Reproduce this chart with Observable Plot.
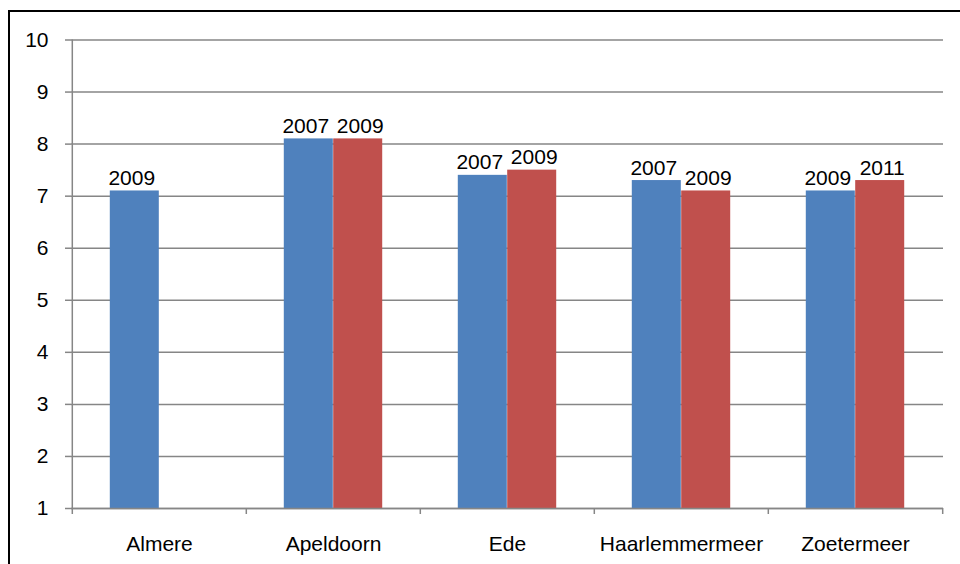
<!DOCTYPE html>
<html>
<head>
<meta charset="utf-8">
<script src="https://cdn.jsdelivr.net/npm/d3@7"></script>
<script src="https://cdn.jsdelivr.net/npm/@observablehq/plot@0.6"></script>
<style>
  html, body { margin: 0; padding: 0; background: #fff; }
  #wrap { position: relative; width: 960px; height: 564px; overflow: hidden; }
  #frame { position: absolute; left: 8px; top: 9.5px; width: 1000px; height: 1000px;
           border-left: 2.5px solid #000; border-top: 2.5px solid #000; box-sizing: border-box; }
  svg { position: absolute; left: 0; top: 0; }
</style>
</head>
<body>
<div id="wrap"><div id="frame"></div></div>
<script>
const cities = ["Almere", "Apeldoorn", "Ede", "Haarlemmermeer", "Zoetermeer"];
const blueValues = [7.1, 8.1, 7.4, 7.3, 7.1];
const redValues = [null, 8.1, 7.5, 7.1, 7.3];
const blueLabels = ["2009", "2007", "2007", "2007", "2009"];
const redLabels = [null, "2009", "2009", "2009", "2011"];
const yTicks = [1, 2, 3, 4, 5, 6, 7, 8, 9, 10];

const blue = cities.map((c, i) => ({city: c, value: blueValues[i], label: blueLabels[i]}));
const red = cities.map((c, i) => ({city: c, value: redValues[i], label: redLabels[i]})).filter(d => d.value != null);

const W = 960, H = 564, mL = 71, mR = 17, mT = 39.5, mB = 56;
const bw = (W - mL - mR) / cities.length;
const bar = bw * 0.2833;
const pad = (bw - 2 * bar) / 2;
const grey = "#868686";
const font = "Liberation Sans, Arial, sans-serif";
const fs = 21;

const chart = Plot.plot({
  width: W, height: H,
  marginLeft: mL, marginRight: mR, marginTop: mT, marginBottom: mB,
  style: {fontFamily: font, fontSize: fs + "px", color: "#000", background: "transparent"},
  x: {domain: cities, padding: 0, label: null},
  y: {domain: [1, 10], ticks: yTicks, tickFormat: d => String(d), label: null},
  marks: [
    Plot.gridY(yTicks, {stroke: grey, strokeOpacity: 1, strokeWidth: 1.5}),
    Plot.axisY(yTicks, {tickSize: 6, tickPadding: 17, tickFormat: d => String(d), stroke: grey, strokeWidth: 1.5, fill: "#000", label: null, fontSize: fs}),
    Plot.axisX({tickSize: 0, tickPadding: 28, fill: "#000", label: null, fontSize: fs}),
    Plot.ruleX(cities, {x: d => d, dx: -bw / 2, y1: 1, y2: 1, insetBottom: -6, stroke: grey, strokeWidth: 1.5}),
    Plot.ruleX([cities[cities.length - 1]], {x: d => d, dx: bw / 2, y1: 1, y2: 1, insetBottom: -6, stroke: grey, strokeWidth: 1.5}),
    Plot.ruleX([cities[0]], {x: d => d, dx: -bw / 2, y1: 1, y2: 10, stroke: grey, strokeWidth: 1.5}),
    Plot.rectY(blue, {x: "city", y1: 1, y2: "value", fill: "#4F81BD", insetLeft: pad, insetRight: pad + bar}),
    Plot.rectY(red, {x: "city", y1: 1, y2: "value", fill: "#C0504D", insetLeft: pad + bar, insetRight: pad}),
    Plot.ruleY([1], {stroke: grey, strokeWidth: 1.5}),
    Plot.text(blue, {x: "city", y: "value", text: "label", dx: -bar / 2 - 3, dy: -6, lineAnchor: "bottom", fill: "#000", fontSize: fs}),
    Plot.text(red, {x: "city", y: "value", text: "label", dx: bar / 2 + 2, dy: -6, lineAnchor: "bottom", fill: "#000", fontSize: fs})
  ]
});
document.getElementById("wrap").insertBefore(chart, document.getElementById("frame"));
</script>
</body>
</html>
